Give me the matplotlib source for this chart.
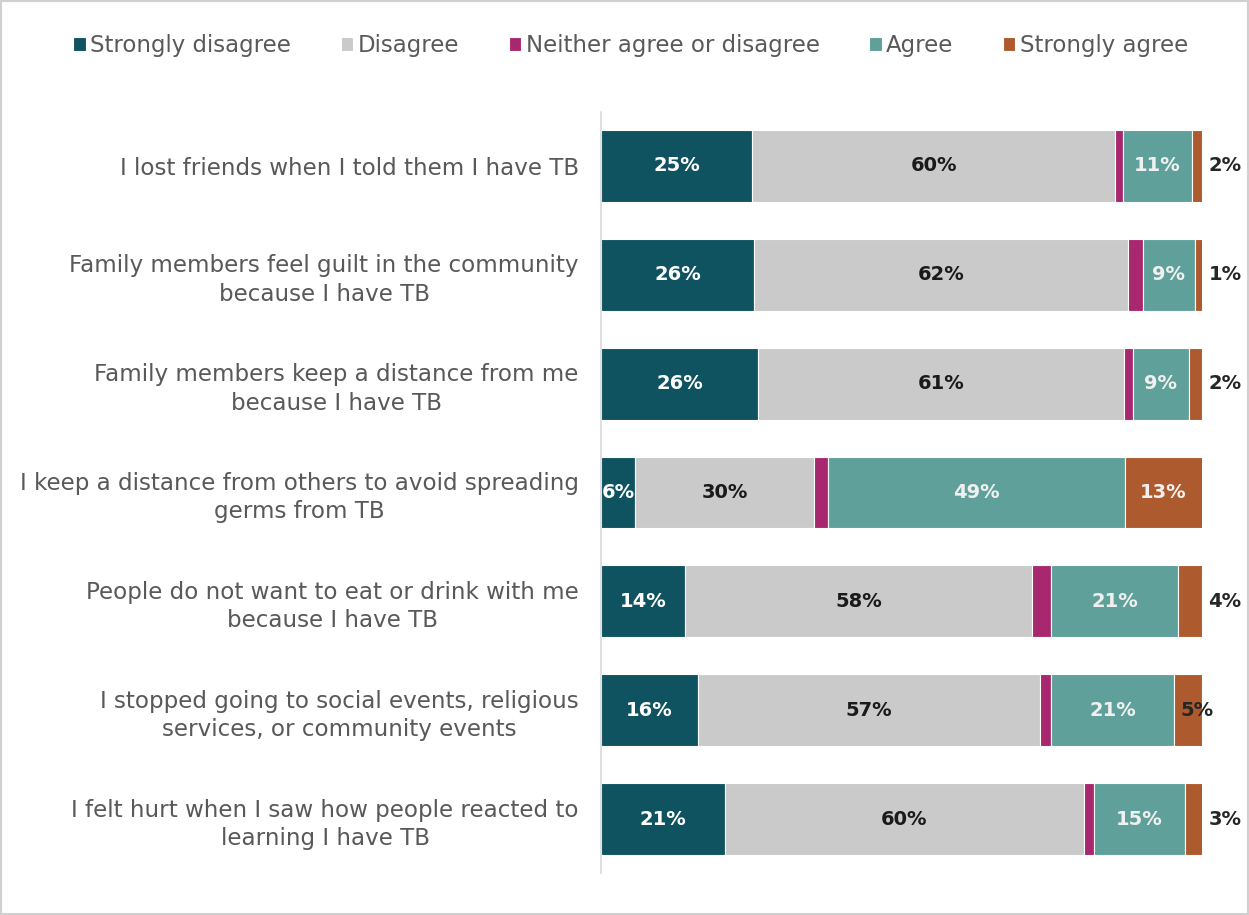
import matplotlib.pyplot as plt
from matplotlib.patches import Rectangle

plt.rcParams["font.family"] = ["DejaVu Sans"]

categories = [
    "I lost friends when I told them I have TB",
    "Family members feel guilt in the community\nbecause I have TB",
    "Family members keep a distance from me\nbecause I have TB",
    "I keep a distance from others to avoid spreading\ngerms from TB",
    "People do not want to eat or drink with me\nbecause I have TB",
    "I stopped going to social events, religious\nservices, or community events",
    "I felt hurt when I saw how people reacted to\nlearning I have TB",
]

strongly_disagree = [25.2, 25.5, 26.1, 5.7, 14.0, 16.1, 20.6]
disagree = [60.4, 62.1, 60.9, 29.8, 57.7, 56.9, 59.7]
neither = [1.3, 2.5, 1.5, 2.3, 3.2, 1.8, 1.8]
agree = [11.4, 8.7, 9.3, 49.3, 21.1, 20.6, 15.0]
strongly_agree = [1.7, 1.3, 2.2, 13.0, 4.0, 4.6, 3.0]

series_names = ["Strongly disagree", "Disagree", "Neither agree or disagree",
                "Agree", "Strongly agree"]
colors = ["#0F5260", "#CACACA", "#A8286F", "#5FA19A", "#AD5B2E"]
label_colors = ["white", "#1A1A1A", None, "#F0F0F0", "#F0F0F0"]

fig = plt.figure(figsize=(12.49, 9.15), dpi=100)
ax = fig.add_axes([0.4812, 0.0454, 0.4812, 0.8327])

series = [strongly_disagree, disagree, neither, agree, strongly_agree]
ypos = list(range(len(categories)))
left = [0.0] * len(categories)
for vals, name, col, lcol in zip(series, series_names, colors, label_colors):
    bars = ax.barh(ypos, vals, left=left, height=0.66, color=col,
                   edgecolor="white", linewidth=0.8, label=name)
    for i, (v, l) in enumerate(zip(vals, left)):
        if lcol is None:
            continue
        txt = f"{v:.0f}%"
        if name == "Strongly agree" and v < 10:
            # small segments get their label just past the bar end
            if i == 5:
                ax.text(l + v / 2 + 1.4, i, txt, ha="center", va="center",
                        fontsize=14, fontweight="bold", color="#262626",
                        clip_on=False)
            else:
                ax.text(l + v + 1.0, i, txt, ha="left", va="center",
                        fontsize=14, fontweight="bold", color="#262626",
                        clip_on=False)
        else:
            ax.text(l + v / 2, i, txt, ha="center", va="center",
                    fontsize=14, fontweight="bold", color=lcol)
    left = [a + b for a, b in zip(left, vals)]

ax.set_xlim(0, 100)
ax.set_ylim(len(categories) - 0.5, -0.5)
ax.set_yticks(ypos)
ax.set_yticklabels(categories, fontsize=16.6, color="#595959",
                   multialignment="center", linespacing=1.3)
ax.tick_params(axis="y", length=0, pad=16)
ax.set_xticks([])
for s in ["top", "right", "bottom"]:
    ax.spines[s].set_visible(False)
ax.spines["left"].set_color("#D9D9D9")
ax.spines["left"].set_linewidth(1.2)

fig.legend(*ax.get_legend_handles_labels(), loc="center",
           bbox_to_anchor=(0.505, 0.95), ncol=5, frameon=False,
           fontsize=16.5, handlelength=0.55, handleheight=0.55,
           handletextpad=0.2, columnspacing=2.15, labelcolor="#595959")

fig.patches.append(Rectangle((0.001, 0.001), 0.998, 0.998,
                             transform=fig.transFigure, fill=False,
                             edgecolor="#D0D0D0", linewidth=1.5))

fig.savefig("out.png", dpi=100)
